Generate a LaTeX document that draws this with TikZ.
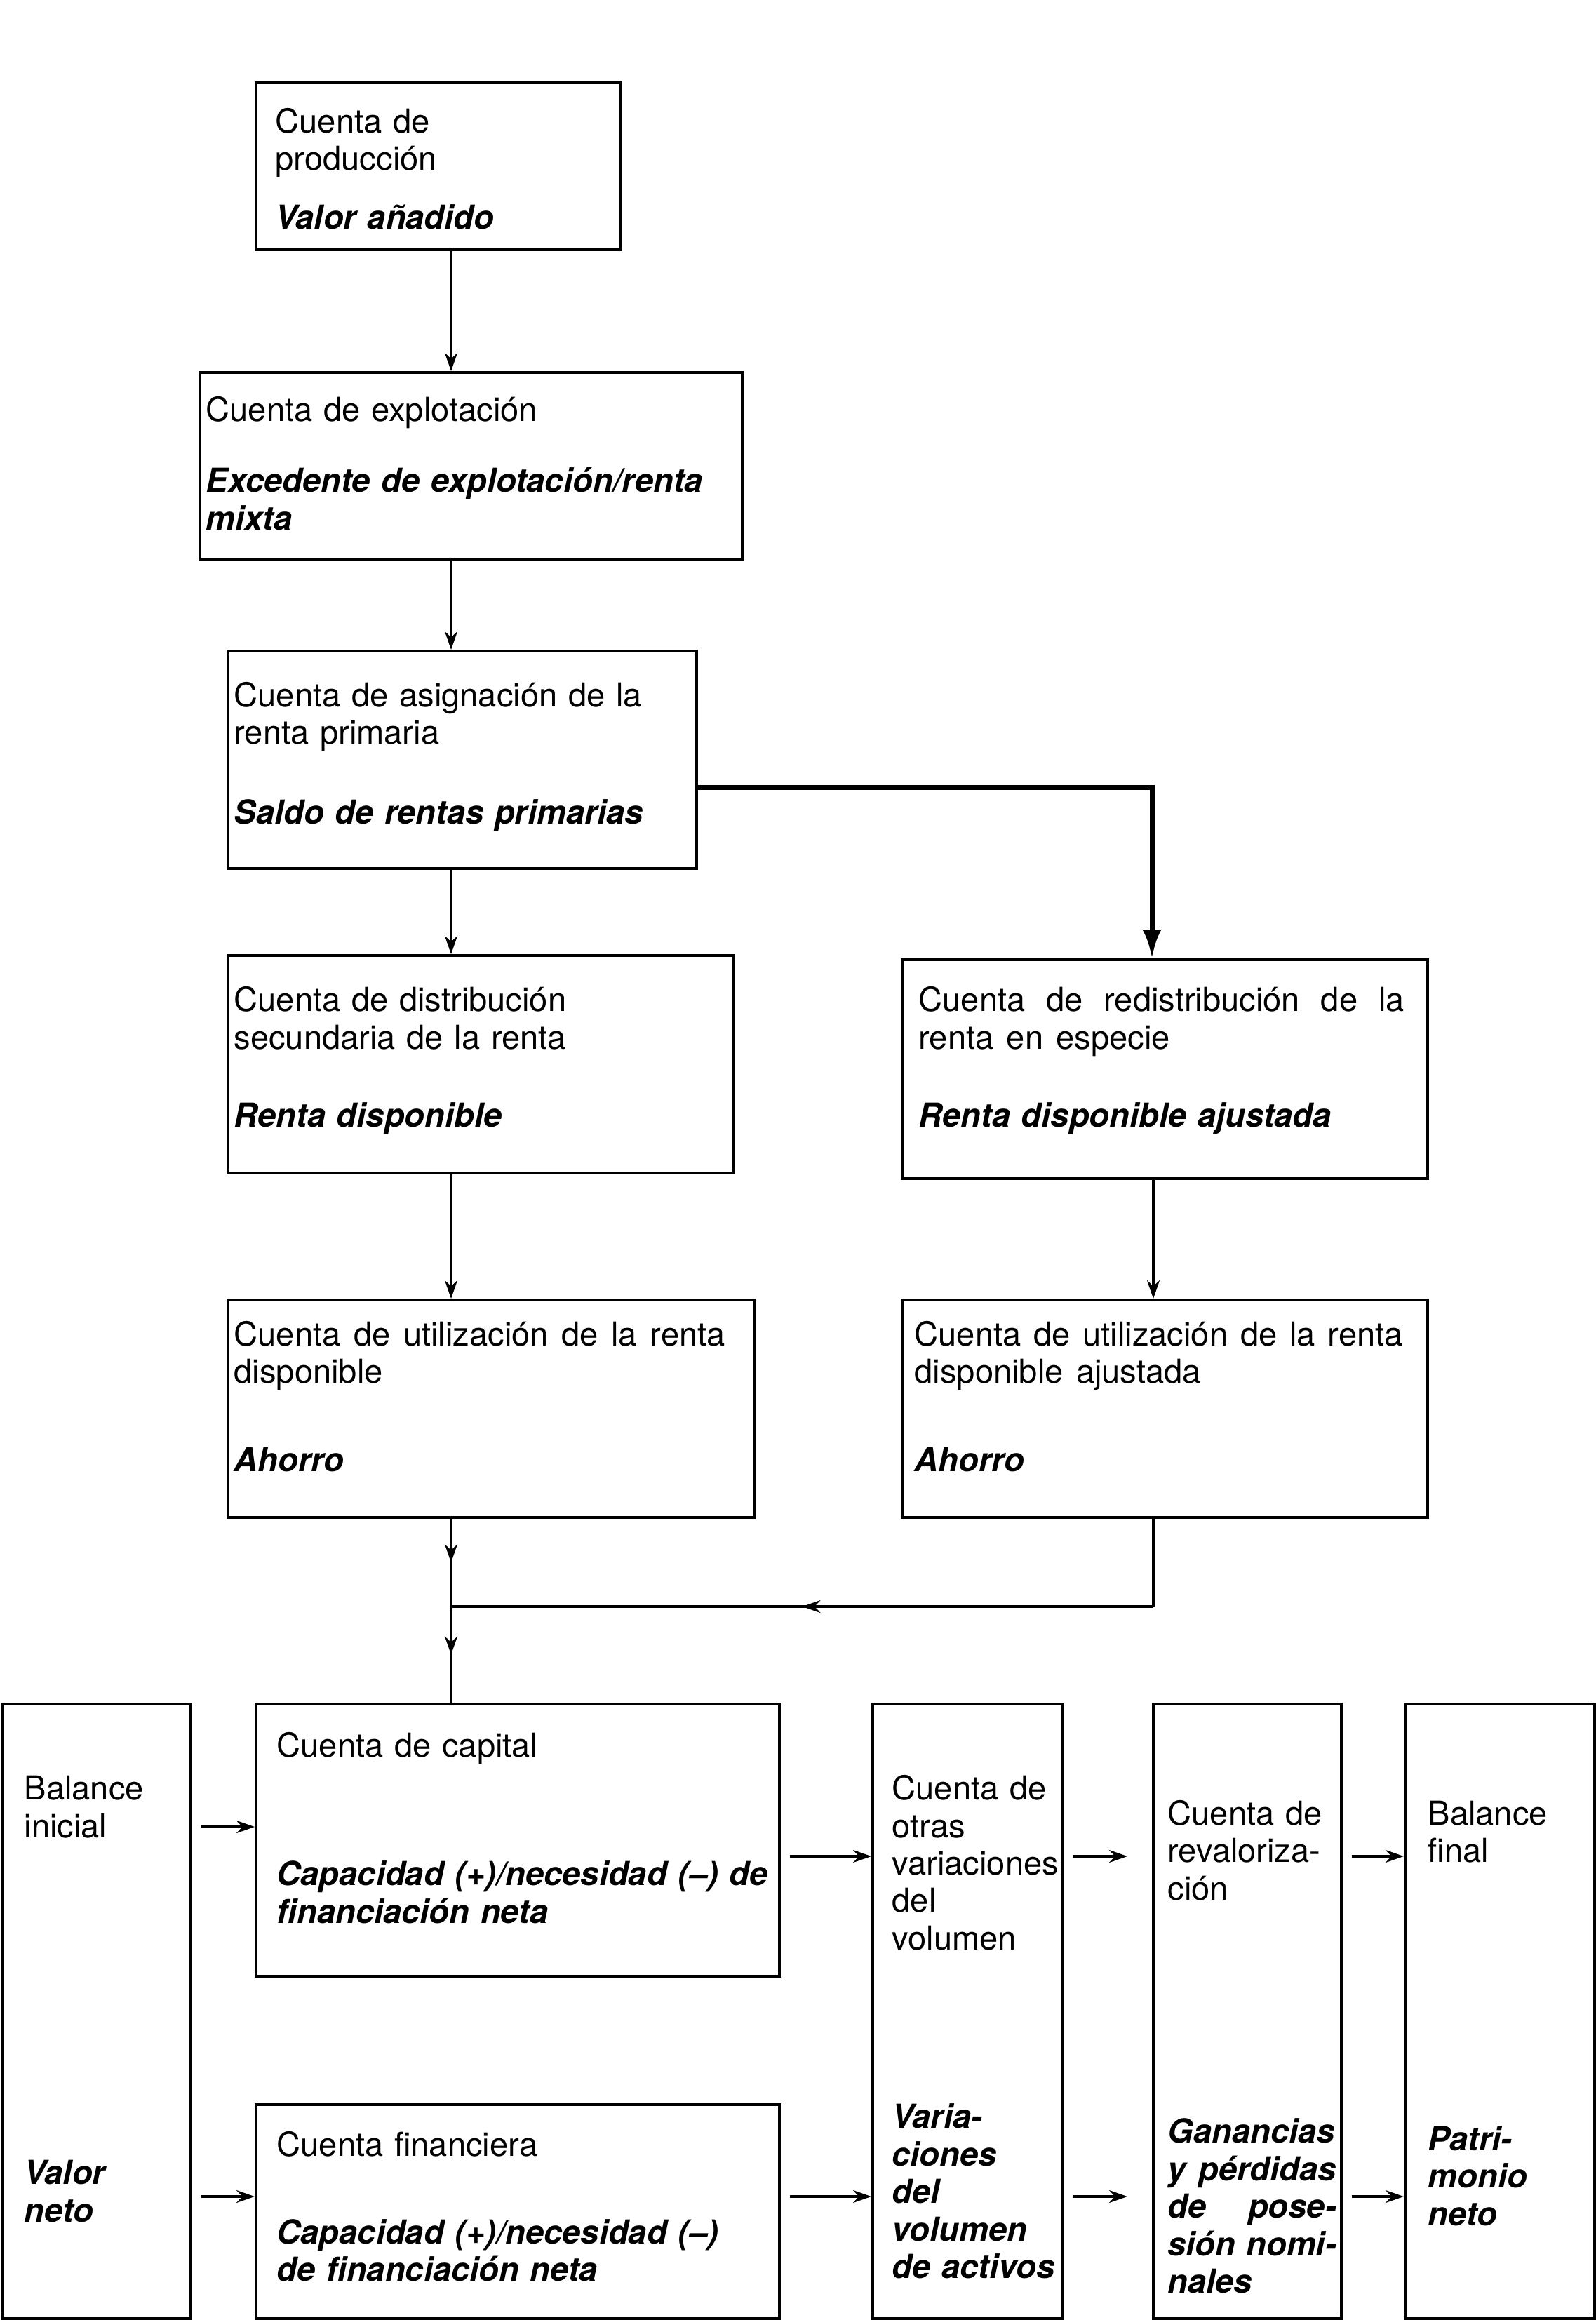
\documentclass[tikz,border=0pt]{standalone}
\usepackage{fontspec}
\setmainfont{TeX Gyre Heros}[WordSpace=1.4]
\usetikzlibrary{arrows.meta,decorations.markings}
\newcommand{\saldofont}{\fontsize{13.4}{15.2}\selectfont\bfseries\itshape}
\begin{document}
\begin{tikzpicture}[
    font=\fontsize{13.4}{15.2}\selectfont,
    box/.style={draw, line width=1pt, anchor=north west, inner sep=0pt},
    txt/.style={anchor=base west, inner sep=0pt, align=left, text width=7.6cm},
    sal/.style={txt, font=\saldofont},
    jtxt/.style={anchor=base west, inner sep=0pt, align=justify, text width=#1},
    arr/.style={-{Stealth[length=2.6mm,width=1.8mm]}, line width=1pt},
    main/.style={-{Latex[length=4mm,width=2.6mm]}, line width=2pt},
    midarr/.style={line width=1pt, postaction={decorate},
      decoration={markings, mark=at position 0.5 with {\arrow{Stealth[length=2.6mm,width=1.8mm]}}}}
  ]
    \useasboundingbox (0,0) rectangle (22.75,-33.07);

    \node[box, minimum width=5.2cm, minimum height=2.38cm] (prod) at (3.63,-1.16) {};
    \node[box, minimum width=7.73cm, minimum height=2.66cm] (expl) at (2.83,-5.29) {};
    \node[box, minimum width=6.68cm, minimum height=3.1cm] (asig) at (3.23,-9.26) {};
    \node[box, minimum width=7.21cm, minimum height=3.1cm] (dist) at (3.23,-13.6) {};
    \node[box, minimum width=7.49cm, minimum height=3.12cm] (redi) at (12.84,-13.66) {};
    \node[box, minimum width=7.5cm, minimum height=3.1cm] (util) at (3.23,-18.51) {};
    \node[box, minimum width=7.49cm, minimum height=3.1cm] (utaj) at (12.84,-18.51) {};
    \node[box, minimum width=2.68cm, minimum height=8.76cm] (bini) at (0.02,-24.27) {};
    \node[box, minimum width=7.46cm, minimum height=3.88cm] (capi) at (3.63,-24.27) {};
    \node[box, minimum width=7.46cm, minimum height=3.05cm] (fina) at (3.63,-29.98) {};
    \node[box, minimum width=2.7cm, minimum height=8.76cm] (otra) at (12.42,-24.27) {};
    \node[box, minimum width=2.68cm, minimum height=8.76cm] (reva) at (16.42,-24.27) {};
    \node[box, minimum width=2.7cm, minimum height=8.76cm] (bfin) at (20.01,-24.27) {};

    \begin{scope}[yshift=-0.06cm]
    \node[txt] (prod-t) at (3.92,-1.834) {Cuenta de\\producción};
    \node[sal] (prod-s) at (3.92,-3.205) {Valor añadido};
    \node[txt] (expl-t) at (2.93,-5.946) {Cuenta de explotación};
    \node[sal] (expl-s) at (2.93,-6.958) {Excedente de explotación/renta\\mixta};
    \node[txt] (asig-t) at (3.33,-10.015) {Cuenta de asignación de la\\renta primaria};
    \node[sal] (asig-s) at (3.33,-11.68) {Saldo de rentas primarias};
    \node[txt] (dist-t) at (3.33,-14.358) {Cuenta de distribución\\secundaria de la renta};
    \node[sal] (dist-s) at (3.33,-16.003) {Renta disponible};
    \node[jtxt=6.92cm] (redi-t) at (13.09,-14.358) {Cuenta de redistribución de la\linebreak renta en especie};
    \node[sal] (redi-s) at (13.09,-16.003) {Renta disponible ajustada};
    \node[jtxt=7cm] (util-t) at (3.33,-19.123) {Cuenta de utilización de la renta\linebreak disponible};
    \node[sal] (util-s) at (3.33,-20.915) {Ahorro};
    \node[jtxt=6.96cm] (utaj-t) at (13.03,-19.123) {Cuenta de utilización de la renta\linebreak disponible ajustada};
    \node[sal] (utaj-s) at (13.03,-20.915) {Ahorro};
    \node[txt] (capi-t) at (3.94,-24.985) {Cuenta de capital};
    \node[sal] (capi-s) at (3.94,-26.819) {Capacidad (+)/necesidad (–) de\\financiación neta};
    \node[txt] (fina-t) at (3.94,-30.677) {Cuenta financiera};
    \node[sal] (fina-s) at (3.94,-31.921) {Capacidad (+)/necesidad (–)\\de financiación neta};
    \node[txt] (bini-t) at (0.34,-25.596) {Balance\\inicial};
    \node[sal] (bini-s) at (0.34,-31.078) {Valor\\neto};
    \node[txt] (otra-t) at (12.71,-25.596) {Cuenta de\\otras\\variaciones\\del\\volumen};
    \node[sal] (otra-s) at (12.71,-30.277) {Varia-\\ciones\\del\\volumen\\de activos};
    \node[txt] (reva-t) at (16.64,-25.954) {Cuenta de\\revaloriza-\\ción};
    \node[jtxt=2.4cm, font=\saldofont] (reva-s) at (16.64,-30.487) {Ganancias\linebreak y pérdidas\linebreak de pose-\linebreak sión nomi-\linebreak nales};
    \node[txt] (bfin-t) at (20.35,-25.954) {Balance\\final};
    \node[sal] (bfin-s) at (20.35,-30.593) {Patri-\\monio\\neto};
    \end{scope}

    \coordinate (ax) at (6.43,0);
    \coordinate (bx) at (16.42,-11.22);
    \coordinate (jn) at (6.43,-22.9);
    \coordinate (jr) at (16.44,-22.9);
    \coordinate (ya) at (0,-26.04);
    \coordinate (yb) at (0,-26.46);
    \coordinate (yc) at (0,-31.31);

    \draw[arr] (prod.south -| ax) -- (expl.north -| ax);
    \draw[arr] (expl.south -| ax) -- (asig.north -| ax);
    \draw[arr] (asig.south -| ax) -- (dist.north -| ax);
    \draw[arr] (dist.south -| ax) -- (util.north -| ax);
    \draw[main] (asig.east |- bx) -| (redi.north -| bx);
    \draw[arr] (redi.south -| jr) -- (utaj.north -| jr);

    \draw[midarr] (util.south -| ax) -- (jn);
    \draw[line width=1pt] (utaj.south -| jr) -- (jr);
    \draw[midarr] (jr) -- (jn);
    \draw[midarr] (jn) -- (capi.north -| ax);

    \draw[arr, shorten <=1.3mm] (bini.east |- ya) -- (capi.west |- ya);
    \foreach \a/\b/\g in {capi/otra/0mm, otra/reva/3.5mm, reva/bfin/0mm}
      \draw[arr, shorten <=1.3mm, shorten >=\g] (\a.east |- yb) -- (\b.west |- yb);
    \foreach \a/\b/\g in {bini/fina/0mm, fina/otra/0mm, otra/reva/3.5mm, reva/bfin/0mm}
      \draw[arr, shorten <=1.3mm, shorten >=\g] (\a.east |- yc) -- (\b.west |- yc);
  \end{tikzpicture}
\end{document}
